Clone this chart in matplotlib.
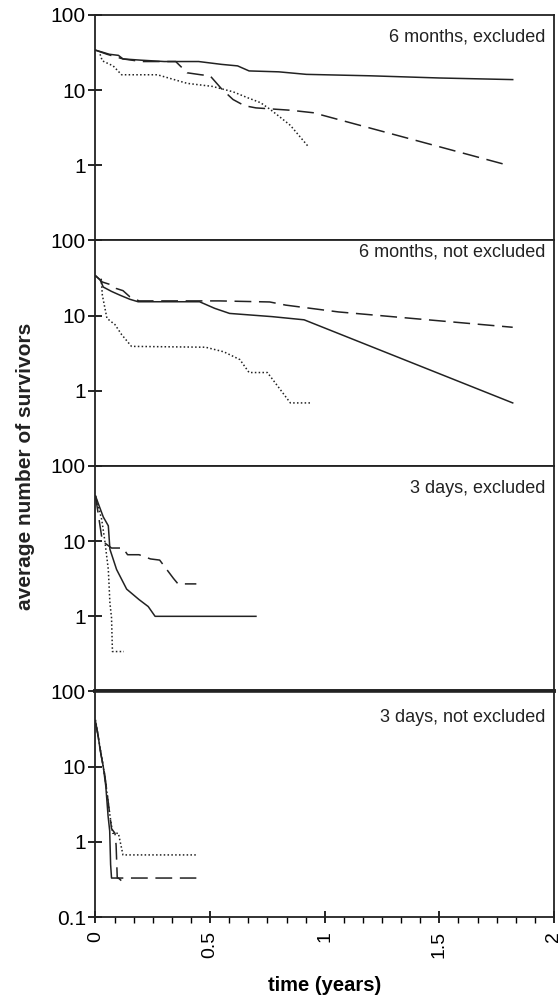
"""Survivor curves on log scale: four scenarios stacked in one column."""

import matplotlib
matplotlib.use("Agg")
import matplotlib.pyplot as plt
from matplotlib.ticker import FixedLocator, MultipleLocator, NullLocator

plt.rcParams["font.family"] = ["Liberation Sans", "DejaVu Sans"]

PANELS = ["6 months, excluded", "6 months, not excluded",
          "3 days, excluded", "3 days, not excluded"]

# 6 months, excluded
p1_solid_t = [0, 0.03, 0.06, 0.10, 0.12, 0.20, 0.30, 0.45, 0.55, 0.62, 0.67, 0.80, 0.92, 1.2, 1.5, 1.82]
p1_solid_v = [34, 32, 30, 29, 26, 25, 24, 24, 22, 21, 18, 17.5, 16.2, 15.5, 14.5, 13.8]
p1_dash_t = [0, 0.05, 0.12, 0.20, 0.35, 0.40, 0.46, 0.50, 0.55, 0.60, 0.65, 0.70, 0.85, 0.95, 1.80]
p1_dash_v = [34, 30, 26, 24, 24, 17, 16, 15.5, 10.4, 7.5, 6.2, 5.8, 5.4, 5.0, 1.0]
p1_dot_t = [0.02, 0.03, 0.077, 0.114, 0.27, 0.40, 0.51, 0.60, 0.66, 0.72, 0.76, 0.80, 0.85, 0.93]
p1_dot_v = [30, 24.5, 21, 16, 16, 12.3, 11.2, 9.5, 8, 6.8, 5.6, 4.5, 3.4, 1.75]

# 6 months, not excluded
p2_solid_t = [0, 0.02, 0.034, 0.07, 0.107, 0.15, 0.186, 0.454, 0.52, 0.585, 0.77, 0.91, 1.82]
p2_solid_v = [34, 30, 24, 21, 18.7, 16.5, 15.3, 15.3, 12.5, 10.7, 9.7, 8.8, 0.69]
p2_dash_t = [0, 0.03, 0.063, 0.09, 0.12, 0.15, 0.19, 0.54, 0.76, 0.83, 1.06, 1.82]
p2_dash_v = [34, 28, 26, 23, 21.5, 17.8, 15.7, 15.7, 15.2, 13.8, 11.2, 7.0]
p2_dot_t = [0.025, 0.03, 0.05, 0.085, 0.114, 0.157, 0.48, 0.56, 0.63, 0.67, 0.75, 0.80, 0.85, 0.94]
p2_dot_v = [31, 18.7, 9.2, 7.6, 5.6, 3.9, 3.8, 3.3, 2.6, 1.75, 1.75, 1.1, 0.69, 0.69]

# 3 days, excluded
p3_solid_t = [0, 0.015, 0.034, 0.056, 0.063, 0.092, 0.136, 0.19, 0.23, 0.26, 0.70]
p3_solid_v = [40, 30, 21, 16, 7.8, 4.2, 2.3, 1.67, 1.35, 1.0, 1.0]
p3_dash_t = [0, 0.03, 0.07, 0.12, 0.14, 0.19, 0.24, 0.28, 0.34, 0.36, 0.44]
p3_dash_v = [40, 10, 8.1, 8.1, 6.6, 6.6, 5.8, 5.6, 3.2, 2.7, 2.7]
p3_dot_t = [0, 0.027, 0.04, 0.056, 0.063, 0.07, 0.074, 0.124]
p3_dot_v = [40, 19.5, 10.5, 4.2, 1.5, 0.96, 0.34, 0.34]

# 3 days, not excluded
p4_solid_t = [0, 0.01, 0.02, 0.034, 0.045, 0.055, 0.062, 0.066, 0.07, 0.10, 0.11]
p4_solid_v = [40, 28, 17, 10, 5.5, 2.2, 1.4, 0.5, 0.33, 0.33, 0.31]
p4_dash_t = [0, 0.012, 0.025, 0.04, 0.055, 0.07, 0.085, 0.09, 0.095, 0.44]
p4_dash_v = [38, 25, 14, 8, 3.5, 1.5, 1.3, 0.9, 0.33, 0.33]
p4_dot_t = [0, 0.015, 0.03, 0.045, 0.06, 0.075, 0.10, 0.12, 0.44]
p4_dot_v = [42, 22, 12, 6, 2.6, 1.3, 1.3, 0.67, 0.67]

SERIES = [
    [(p1_solid_t, p1_solid_v), (p1_dash_t, p1_dash_v), (p1_dot_t, p1_dot_v)],
    [(p2_solid_t, p2_solid_v), (p2_dash_t, p2_dash_v), (p2_dot_t, p2_dot_v)],
    [(p3_solid_t, p3_solid_v), (p3_dash_t, p3_dash_v), (p3_dot_t, p3_dot_v)],
    [(p4_solid_t, p4_solid_v), (p4_dash_t, p4_dash_v), (p4_dot_t, p4_dot_v)],
]
STYLES = ["-", (0, (11, 5)), (0, (1, 1.5))]
LABEL_Y = [0.903, 0.947, 0.900, 0.885]
INK = "#222222"

fig, axes = plt.subplots(4, 1, figsize=(5.59, 9.96), dpi=100, sharex=True)
fig.subplots_adjust(left=0.1708, right=0.991, top=0.985, bottom=0.0793, hspace=0)

for i, ax in enumerate(axes):
    for (t, v), ls in zip(SERIES[i], STYLES):
        ax.plot(t, v, color=INK, linestyle=ls, linewidth=1.1)
    ax.set_yscale("log")
    ax.set_ylim(0.1, 100)
    ax.set_xlim(0, 2)
    last = i == len(axes) - 1
    ticks = [0.1, 1, 10, 100] if last else [1, 10, 100]
    ax.yaxis.set_major_locator(FixedLocator(ticks))
    ax.yaxis.set_minor_locator(NullLocator())
    ax.set_yticklabels([f"{v:g}" for v in ticks])
    ax.tick_params(axis="y", which="major", direction="inout", length=10,
                   width=1.2, labelsize=15, pad=2)
    for sp in ax.spines.values():
        sp.set_linewidth(1.3)
        sp.set_color("#222222")
    ax.text(0.982, LABEL_Y[i], PANELS[i], transform=ax.transAxes,
            ha="right", va="center", fontsize=13, color="#222222")
    if not last:
        ax.tick_params(axis="x", which="both", bottom=False, labelbottom=False)

axes[2].spines["bottom"].set_linewidth(2.6)
axes[3].spines["top"].set_linewidth(2.6)

bottom = axes[-1]
bottom.xaxis.set_major_locator(MultipleLocator(0.5))
bottom.xaxis.set_minor_locator(MultipleLocator(0.5 / 6))
bottom.set_xticks([0, 0.5, 1, 1.5, 2])
bottom.set_xticklabels(["0", "0.5", "1", "1.5", "2"], rotation=90)
bottom.tick_params(axis="x", which="major", direction="inout", length=8,
                   width=1.2, labelsize=14, pad=6)
bottom.tick_params(axis="x", which="minor", direction="out", length=4, width=1)
bottom.set_xlabel("time (years)", fontsize=14.5, fontweight="bold", labelpad=13)

fig.text(0.045, (0.985 + 0.0793) / 2, "average number of survivors", rotation=90,
         ha="center", va="center", fontsize=15, fontweight="bold", color="#222222")

fig.savefig("out.png", dpi=100)
